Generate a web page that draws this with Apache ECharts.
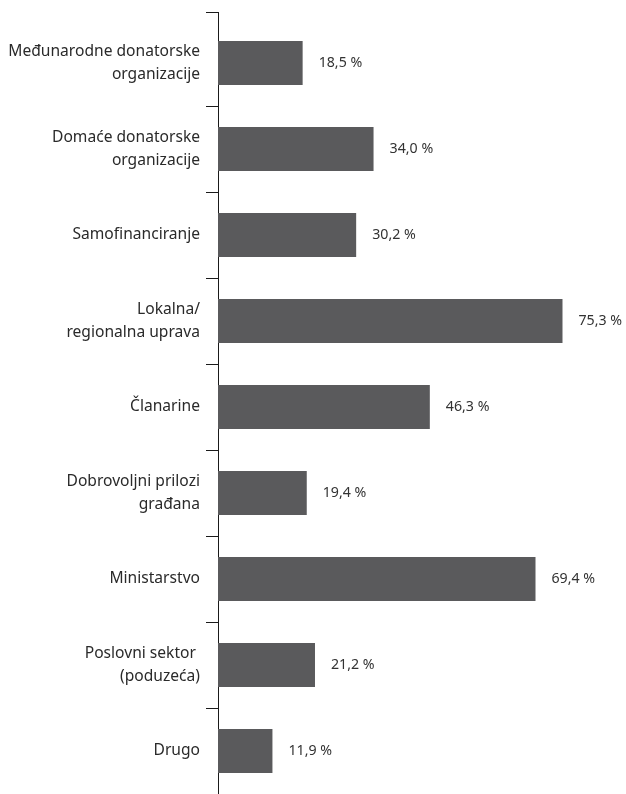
<!DOCTYPE html>
<html>
<head>
<meta charset="utf-8">
<script src="https://cdn.jsdelivr.net/npm/echarts@6/dist/echarts.min.js"></script>
<style>
html,body{margin:0;padding:0;background:#fff;}
#main{width:626px;height:794px;}
</style>
</head>
<body>
<div id="main"></div>
<script>
const categories = [
  'Međunarodne donatorske\norganizacije',
  'Domaće donatorske\norganizacije',
  'Samofinanciranje',
  'Lokalna/\nregionalna uprava',
  'Članarine',
  'Dobrovoljni prilozi\ngrađana',
  'Ministarstvo',
  'Poslovni sektor \n(poduzeća)',
  'Drugo'
];
const values = [18.5, 34.0, 30.2, 75.3, 46.3, 19.4, 69.4, 21.2, 11.9];

const GRID_LEFT = 218, GRID_TOP = 20;
const chart = echarts.init(document.getElementById('main'), null, {renderer: 'canvas'});
chart.setOption({
  animation: false,
  backgroundColor: '#ffffff',
  grid: {left: GRID_LEFT, top: GRID_TOP, bottom: 0, right: 42, containLabel: false},
  xAxis: {type: 'value', min: 0, max: 80, show: false},
  yAxis: {
    type: 'category',
    inverse: true,
    data: categories,
    axisLine: {show: true, lineStyle: {color: '#1a1a1a', width: 1}},
    axisTick: {show: true, length: 12, lineStyle: {color: '#1a1a1a', width: 1},
      interval: function (i) { return i !== 0; }},
    axisLabel: {
      margin: 18, align: 'right', color: '#2a2a2a',
      fontFamily: 'Noto Sans', fontSize: 15.6, lineHeight: 23
    }
  },
  series: [{
    type: 'bar',
    data: values,
    barWidth: 44,
    itemStyle: {color: '#5a5a5c'},
    label: {
      show: true, position: 'right', distance: 16,
      fontFamily: 'Noto Sans', fontSize: 14.2, color: '#333333',
      formatter: function (p) { return p.value.toFixed(1).replace('.', ',') + ' %'; }
    }
  }],
  graphic: [
    {type: 'line', shape: {x1: GRID_LEFT + 0.5, y1: 12, x2: GRID_LEFT + 0.5, y2: GRID_TOP}, style: {stroke: '#1a1a1a', lineWidth: 1}},
    {type: 'line', shape: {x1: GRID_LEFT - 12, y1: 12.5, x2: GRID_LEFT, y2: 12.5}, style: {stroke: '#1a1a1a', lineWidth: 1}}
  ]
});
</script>
</body>
</html>
